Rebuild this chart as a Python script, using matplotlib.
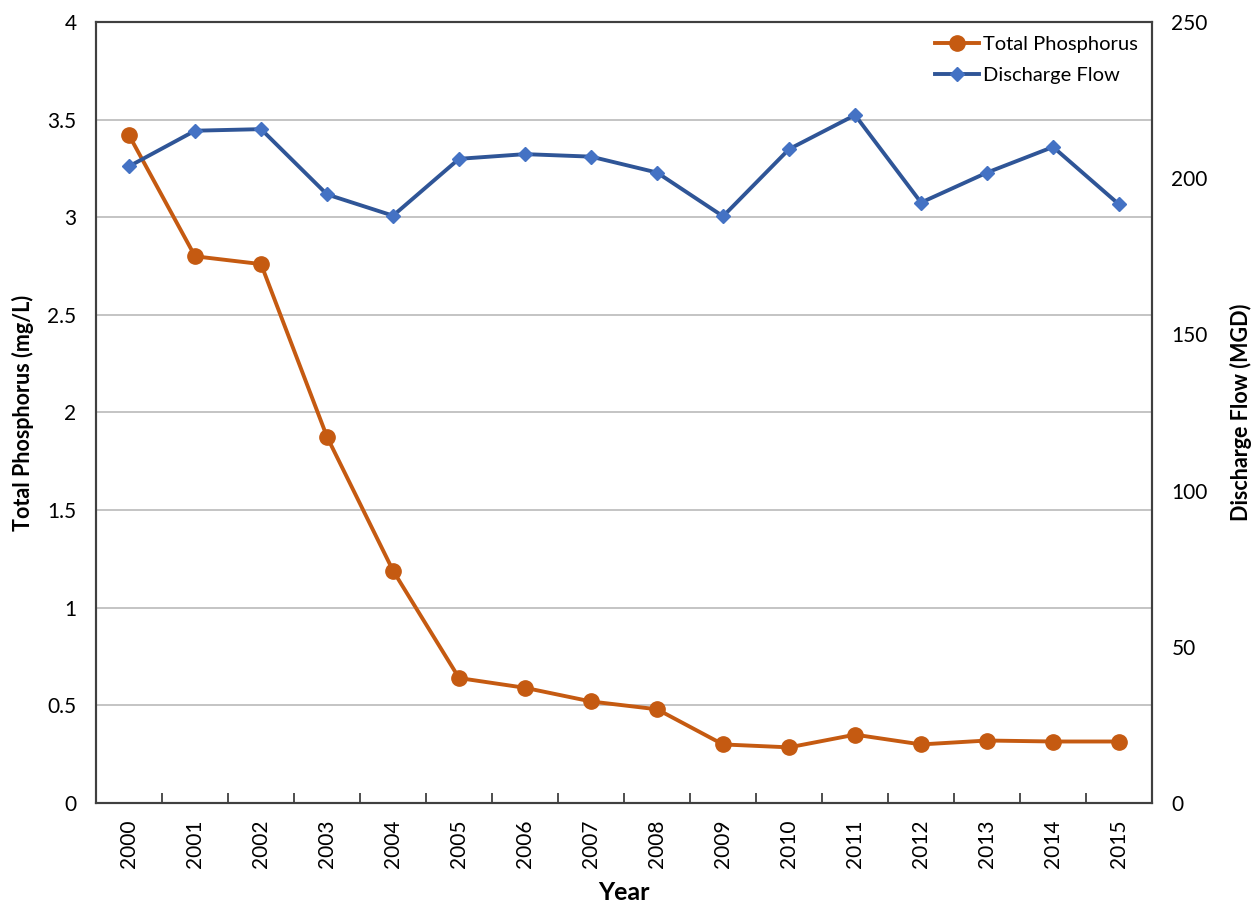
import matplotlib
matplotlib.use("Agg")
import matplotlib.pyplot as plt
import numpy as np

plt.rcParams['font.family'] = ['Lato', 'DejaVu Sans']

years = ["2000", "2001", "2002", "2003", "2004", "2005", "2006", "2007",
         "2008", "2009", "2010", "2011", "2012", "2013", "2014", "2015"]
phosphorus = [3.42, 2.80, 2.76, 1.875, 1.19, 0.64, 0.59, 0.52,
              0.48, 0.30, 0.285, 0.35, 0.30, 0.32, 0.315, 0.315]
discharge = [203.8, 215.2, 215.7, 194.8, 188.0, 206.2, 207.7, 206.9,
             201.8, 187.8, 209.3, 220.2, 192.2, 201.8, 210.0, 191.6]

fig = plt.figure(figsize=(12.54, 9.05), dpi=100)
ax = fig.add_axes([0.0766, 0.1127, 0.8421, 0.863])
ax2 = ax.twinx()

x = np.arange(len(years))
orange = "#C55A11"
blue_line = "#2F5597"
blue_mk = "#4472C4"

l1, = ax.plot(x, phosphorus, color=orange, lw=2.8, marker='o', ms=11,
              markerfacecolor=orange, markeredgecolor=orange, label="Total Phosphorus", zorder=3)
l2, = ax2.plot(x, discharge, color=blue_line, lw=2.8, marker='D', ms=7.5,
               markerfacecolor=blue_mk, markeredgecolor=blue_mk, label="Discharge Flow", zorder=3)

ax.set_xlim(-0.5, len(years) - 0.5)
ax.set_ylim(0, 4)
ax2.set_ylim(0, 250)
ax.set_yticks(np.arange(0, 4.01, 0.5))
ax.set_yticklabels(["0", "0.5", "1", "1.5", "2", "2.5", "3", "3.5", "4"])
ax2.set_yticks(np.arange(0, 251, 50))

ax.grid(axis='y', color='#BFBFBF', lw=1.3)
ax.set_axisbelow(True)

ax.set_xticks(x)
ax.set_xticklabels(years, rotation=90)
ax.set_xticks(np.arange(-0.5, len(years) - 0.4, 1), minor=True)
ax.tick_params(axis='x', which='major', length=0, pad=12, labelsize=15)
ax.tick_params(axis='x', which='minor', length=7, direction='in', width=1.3, color='#404040')
ax.tick_params(axis='y', length=0, labelsize=15, pad=14)
ax2.tick_params(axis='y', length=0, labelsize=15, pad=14)

for a in (ax, ax2):
    for s in a.spines.values():
        s.set_color('#404040')
        s.set_linewidth(1.5)

ax.set_ylabel("Total Phosphorus (mg/L)", fontsize=15.5, fontweight='bold', labelpad=10)
ax2.set_ylabel("Discharge Flow (MGD)", fontsize=15.5, fontweight='bold', labelpad=16)
ax.set_xlabel("Year", fontsize=18, fontweight='bold', labelpad=9)

ax.legend(handles=[l1, l2], loc='upper right', frameon=False, fontsize=14.5,
          handlelength=2.2, handletextpad=0.2, borderaxespad=0.3, labelspacing=0.7)

fig.savefig("out.png", dpi=100)
